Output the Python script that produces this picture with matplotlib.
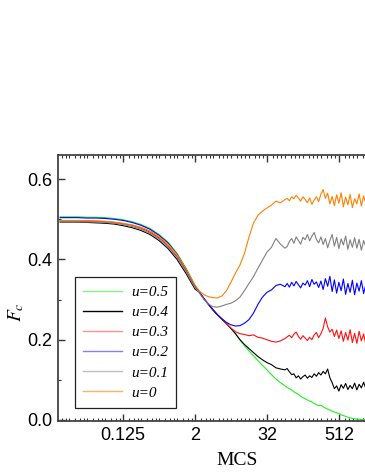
import matplotlib
matplotlib.use('Agg')
import matplotlib.pyplot as plt
from matplotlib.ticker import FixedLocator, NullFormatter
import numpy as np

# sampling grid, in log2(MCS)
log2_mcs = np.concatenate([np.arange(-6.5, 1.01, 0.5),
                           np.arange(1.25, 6.01, 0.25),
                           np.arange(6.125, 10.76, 0.125)])
mcs = 2.0 ** log2_mcs

labels = ['u=0.5', 'u=0.4', 'u=0.3', 'u=0.2', 'u=0.1', 'u=0']

fc_u05 = [0.506, 0.506, 0.506, 0.505, 0.505, 0.504, 0.502, 0.499, 0.494, 0.487, 0.477, 0.462, 0.443, 0.415, 0.378, 0.335,
          0.318, 0.302, 0.288, 0.274, 0.262, 0.251, 0.240, 0.228, 0.215, 0.200, 0.185, 0.172, 0.160, 0.148, 0.136, 0.125,
          0.113, 0.102, 0.093, 0.085,
          0.081, 0.078, 0.075, 0.070, 0.067, 0.064, 0.059, 0.056, 0.053, 0.050, 0.047, 0.045, 0.041, 0.038, 0.036, 0.037,
          0.033, 0.030, 0.027, 0.025, 0.022, 0.020, 0.018, 0.016, 0.013, 0.011, 0.009, 0.007, 0.005, 0.004, 0.003, 0.002,
          0.002, 0.001, 0.001, 0.001, 0.000, 0.000]
fc_u04 = [0.493, 0.493, 0.493, 0.492, 0.491, 0.490, 0.488, 0.484, 0.479, 0.472, 0.462, 0.447, 0.427, 0.400, 0.365, 0.326,
          0.318, 0.302, 0.288, 0.274, 0.262, 0.251, 0.240, 0.228, 0.215, 0.200, 0.188, 0.178, 0.168, 0.158, 0.150, 0.143,
          0.138, 0.130, 0.127, 0.125,
          0.128, 0.120, 0.113, 0.115, 0.105, 0.110, 0.102, 0.108, 0.112, 0.104, 0.110, 0.106, 0.115, 0.109, 0.118, 0.112,
          0.121, 0.115, 0.127, 0.105, 0.093, 0.078, 0.085, 0.072, 0.088, 0.079, 0.091, 0.076, 0.086, 0.078, 0.092, 0.075,
          0.089, 0.080, 0.094, 0.078, 0.088, 0.082]
fc_u03 = [0.496, 0.496, 0.496, 0.495, 0.495, 0.494, 0.492, 0.489, 0.485, 0.478, 0.468, 0.454, 0.434, 0.407, 0.372, 0.331,
          0.318, 0.302, 0.288, 0.274, 0.262, 0.251, 0.240, 0.229, 0.220, 0.215, 0.213, 0.210, 0.212, 0.206, 0.204, 0.200,
          0.196, 0.194, 0.197, 0.203,
          0.207, 0.211, 0.205, 0.214, 0.219, 0.208, 0.201, 0.210, 0.204, 0.198, 0.206, 0.200, 0.212, 0.218, 0.205, 0.215,
          0.228, 0.254, 0.232, 0.219, 0.226, 0.208, 0.224, 0.203, 0.222, 0.196, 0.218, 0.199, 0.225, 0.193, 0.216, 0.191,
          0.221, 0.197, 0.214, 0.188, 0.211, 0.196]
fc_u02 = [0.504, 0.504, 0.504, 0.503, 0.503, 0.502, 0.500, 0.497, 0.492, 0.485, 0.475, 0.460, 0.441, 0.413, 0.376, 0.333,
          0.318, 0.302, 0.288, 0.275, 0.262, 0.252, 0.243, 0.237, 0.234, 0.235, 0.241, 0.250, 0.266, 0.288, 0.306, 0.318,
          0.324, 0.335, 0.338, 0.332,
          0.340, 0.331, 0.343, 0.334, 0.345, 0.337, 0.329, 0.341, 0.336, 0.347, 0.332, 0.350, 0.338, 0.344, 0.330, 0.346,
          0.325, 0.352, 0.333, 0.358, 0.320, 0.349, 0.316, 0.343, 0.322, 0.351, 0.313, 0.340, 0.318, 0.348, 0.312, 0.341,
          0.321, 0.347, 0.315, 0.338, 0.319, 0.335]
fc_u01 = [0.494, 0.494, 0.494, 0.493, 0.493, 0.492, 0.490, 0.487, 0.482, 0.475, 0.465, 0.451, 0.432, 0.405, 0.370, 0.330,
          0.316, 0.300, 0.289, 0.282, 0.281, 0.284, 0.288, 0.291, 0.297, 0.306, 0.322, 0.340, 0.357, 0.378, 0.398, 0.418,
          0.430, 0.452, 0.438, 0.428,
          0.432, 0.445, 0.452, 0.440, 0.456, 0.447, 0.438, 0.455, 0.449, 0.462, 0.446, 0.458, 0.467, 0.450, 0.441, 0.456,
          0.437, 0.452, 0.429, 0.447, 0.462, 0.433, 0.455, 0.427, 0.451, 0.436, 0.458, 0.425, 0.449, 0.430, 0.454, 0.428,
          0.450, 0.423, 0.447, 0.431, 0.452, 0.438]
fc_u00 = [0.497, 0.497, 0.497, 0.497, 0.496, 0.495, 0.493, 0.490, 0.486, 0.480, 0.471, 0.457, 0.438, 0.412, 0.377, 0.336,
          0.321, 0.312, 0.307, 0.305, 0.304, 0.309, 0.322, 0.343, 0.366, 0.386, 0.415, 0.455, 0.490, 0.510, 0.520, 0.528,
          0.535, 0.545, 0.541, 0.549,
          0.552, 0.546, 0.556, 0.551, 0.560, 0.553, 0.545, 0.556, 0.549, 0.541, 0.553, 0.537, 0.548, 0.556, 0.544, 0.562,
          0.574, 0.552, 0.565, 0.538, 0.557, 0.534, 0.561, 0.540, 0.566, 0.531, 0.555, 0.536, 0.562, 0.529, 0.551, 0.538,
          0.563, 0.533, 0.558, 0.540, 0.552, 0.537]

series = [fc_u05, fc_u04, fc_u03, fc_u02, fc_u01, fc_u00]
colors = ['#22ee22', '#000000', '#ff1010', '#0000ff', '#808080', '#ff8000']
legend_colors = ['#88f088', '#000000', '#ff8f8f', '#8080ff', '#bdbdbd', '#ffb060']

major_x = [0.125, 2, 32, 512, 8192]
major_xlabels = ['0.125', '2', '32', '512', '']
major_y = [0.0, 0.2, 0.4, 0.6]

fig = plt.figure(figsize=(3.65, 4.73), dpi=100)
ax = fig.add_axes([57.5 / 365, 52 / 473, (416 - 57.5) / 365, 266 / 473])

for vals, col, lab in zip(series, colors, labels):
    ax.plot(mcs, vals, color=col, lw=0.8, label=lab)

ax.set_xscale('log', base=2)
ax.set_xlim(0.01, 10000)
ax.set_ylim(-0.0025, 0.66)

ax.xaxis.set_major_locator(FixedLocator(major_x))
ax.set_xticklabels(major_xlabels)
minor_x = []
for p in range(-7, 14):
    for s in [1.0, 1.25, 1.5, 1.75]:
        v = s * 2.0 ** p
        if v not in major_x:
            minor_x.append(v)
ax.xaxis.set_minor_locator(FixedLocator(minor_x))
ax.xaxis.set_minor_formatter(NullFormatter())
ax.yaxis.set_major_locator(FixedLocator(major_y))
ax.set_yticklabels(['0.0', '0.2', '0.4', '0.6'])
ax.yaxis.set_minor_locator(FixedLocator([0.1, 0.3, 0.5]))

ax.tick_params(which='both', direction='in', top=True, right=True, color='#333333')
ax.tick_params(which='major', length=5, width=1.0, labelsize=13, pad=4)
ax.tick_params(which='minor', length=2.5, width=0.8)
for lbl in ax.get_xticklabels() + ax.get_yticklabels():
    lbl.set_family('Liberation Sans')
for sp in ax.spines.values():
    sp.set_linewidth(1.3)
    sp.set_color('#444444')

ax.set_xlabel('MCS', family='Liberation Serif', fontsize=14, labelpad=6)
fig.text(16 / 365, 1 - 312 / 473, r'$F_c$', rotation=90, ha='center', va='center', fontsize=14,
         math_fontfamily='stix')

leg = ax.legend(loc='upper left', bbox_to_anchor=(75 / 365, 1 - 277 / 473), bbox_transform=fig.transFigure,
                borderaxespad=0, prop={'family': 'Liberation Serif', 'style': 'italic', 'size': 11},
                handlelength=2.5, handletextpad=0.6, labelspacing=0.42, borderpad=0.55,
                fancybox=False, framealpha=1, edgecolor='#222222')
leg.get_frame().set_linewidth(0.9)
for line, col in zip(leg.get_lines(), legend_colors):
    line.set_color(col)
    line.set_linewidth(1.0)

fig.savefig('out.png', dpi=100)
